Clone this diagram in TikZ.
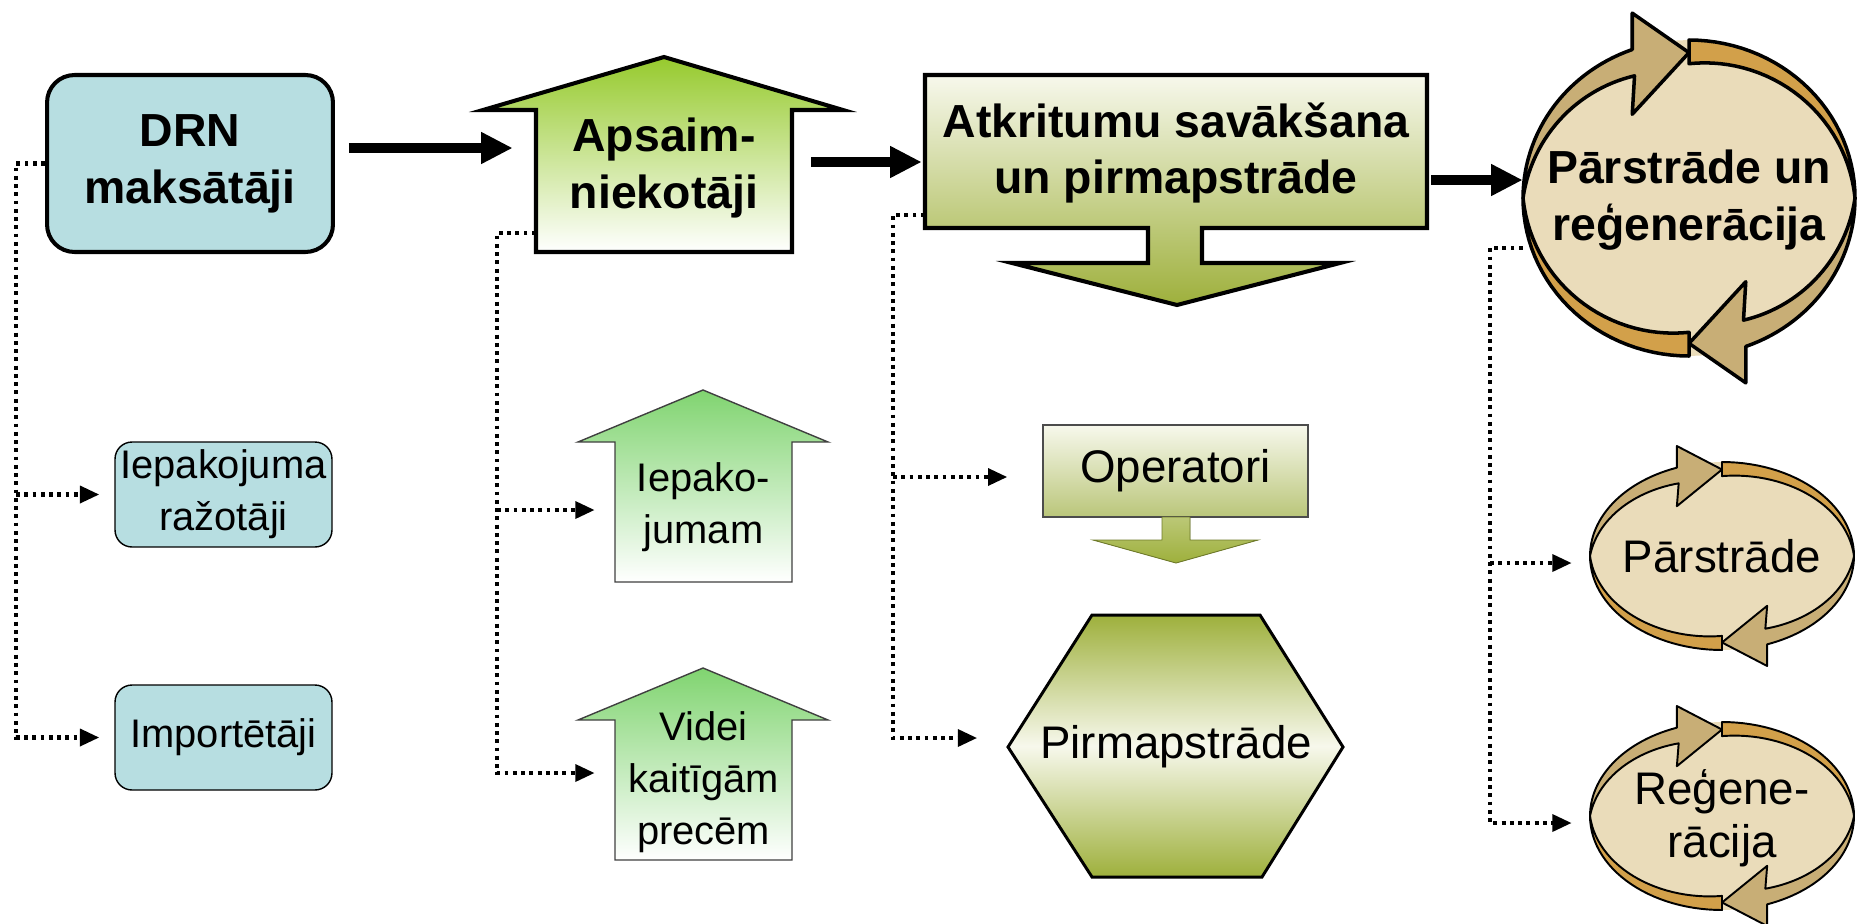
\documentclass[tikz,border=0pt]{standalone}
\usepackage{fontspec}
\setmainfont{Liberation Sans}
\usetikzlibrary{arrows.meta,calc}

\definecolor{drnblue}{RGB}{183,222,225}
\definecolor{apsgreen}{RGB}{150,202,45}
\definecolor{lightgreen}{RGB}{128,212,112}
\definecolor{olivegr}{RGB}{158,176,60}
\definecolor{palegr}{RGB}{247,248,236}
\definecolor{opbottom}{RGB}{186,198,122}
\definecolor{cycbeige}{RGB}{234,220,186}
\definecolor{cyctan}{RGB}{200,174,118}
\definecolor{cycgold}{RGB}{210,160,74}

% two curved arrows round an ellipse: centre, radii, line width
\newcommand{\cycarrows}[5]{%
\begin{scope}[shift={(#1,#2)},xscale=#3,yscale=-#4,line width=#5,line join=round]
\fill[cycbeige] plot[domain=0:360,samples=73] ({cos(\x)},{sin(\x)}) -- cycle;
\foreach \ang in {0,180}{
\filldraw[fill=cyctan,rotate=\ang] plot[domain=180:110,samples=30] ({cos(\x)},{sin(\x)}) -- (-0.342,1.17) -- (0,0.92) -- (-0.342,0.53)
  -- plot[domain=113:180,samples=30] ({(1-0.16*(180-\x)/67)*cos(\x)},{(1-0.16*(180-\x)/67)*sin(\x)}) -- cycle;
\filldraw[fill=cycgold,rotate=\ang] plot[domain=90:0,samples=30] ({cos(\x)},{sin(\x)})
  -- plot[domain=0:90,samples=30] ({(1-0.15*\x/90)*cos(\x)},{(1-0.15*\x/90)*sin(\x)}) -- cycle;
}
\end{scope}}

\begin{document}
\begin{tikzpicture}[x=0.02cm,y=-0.02cm,
  bigtxt/.style={font=\fontsize{26.4}{32.3}\selectfont\bfseries,align=center},
  midtxt/.style={font=\fontsize{26}{30}\selectfont,align=center},
  smtxt/.style={font=\fontsize{22.7}{29.5}\selectfont,align=center},
  bluebox/.style={draw,fill=drnblue,inner sep=0pt},
  mainarrow/.style={line width=5.7pt,-{Triangle[length=18pt,width=17pt]}},
  dotarrow/.style={line width=2.4pt,dash pattern=on 2.2pt off 2.5pt,-{Triangle[length=11pt,width=9.5pt]}}]
\useasboundingbox (0,0) rectangle (1859,923);

% payers, producers, importers
\node[bluebox,line width=2.3pt,rounded corners=0.55cm,minimum width=5.72cm,minimum height=3.54cm,bigtxt] (drn) at (190,163.5) {DRN\\maksātāji};
\node[bluebox,line width=0.8pt,rounded corners=0.34cm,minimum width=4.34cm,minimum height=2.1cm,smtxt] (razotaji) at (223.5,494.5) {Iepakojuma\\ražotāji};
\node[bluebox,line width=0.8pt,rounded corners=0.34cm,minimum width=4.34cm,minimum height=2.1cm,smtxt] (importetaji) at (223.5,737.5) {Importētāji};

% managers
\draw[line width=2.3pt,top color=apsgreen,bottom color=white] (536,252) -- (536,110) -- (483,110) -- (664,57) -- (843,110) -- (792,110) -- (792,252) -- cycle;
\node[bigtxt,minimum width=5.12cm] (apsaim) at (664,168) {Apsaim-\\niekotāji};
\draw[line width=0.8pt,draw=black!75,top color=lightgreen,bottom color=white] (615,582) -- (615,442) -- (578,442) -- (703,390) -- (828,442) -- (792,442) -- (792,582) -- cycle;
\node[smtxt,minimum width=3.54cm] (iepako) at (703.5,507) {Iepako-\\jumam};
\draw[line width=0.8pt,draw=black!75,top color=lightgreen,bottom color=white] (615,860) -- (615,720) -- (578,720) -- (703,668) -- (828,720) -- (792,720) -- (792,860) -- cycle;
\node[smtxt,minimum width=3.54cm] (videi) at (703.5,782) {Videi\\kaitīgām\\precēm};

% collection
\draw[line width=2.3pt,top color=palegr,bottom color=olivegr] (925,75) -- (1427,75) -- (1427,228) -- (1202,228) -- (1202,263) -- (1340,263) -- (1177,305) -- (1012,263) -- (1148,263) -- (1148,228) -- (925,228) -- cycle;
\node[bigtxt,minimum width=10.04cm] (atkr) at (1176,153) {Atkritumu savākšana\\un pirmapstrāde};
\node[draw=black!70,line width=0.8pt,top color=palegr,bottom color=opbottom,minimum width=5.3cm,minimum height=1.84cm,midtxt] (oper) at (1175.5,471) {Operatori};
\filldraw[draw=olivegr!70!black,line width=0.5pt,top color=olivegr!70,bottom color=olivegr] (1162,517) -- (1162,540) -- (1093,540) -- (1176,563) -- (1258,540) -- (1190,540) -- (1190,517) -- cycle;
\draw[line width=1.7pt,top color=olivegr,bottom color=olivegr,middle color=palegr] (1008,747) -- (1092,615) -- (1260,615) -- (1343,747) -- (1262,877) -- (1092,877) -- cycle;
\node[midtxt,minimum width=6.7cm] (pirm) at (1176,747) {Pirmapstrāde};

% recycling
\cycarrows{1689}{198}{166}{158}{2pt}
\node[bigtxt,minimum width=6.64cm] (cikls) at (1689,200) {Pārstrāde un\\reģenerācija};
\cycarrows{1722}{556}{132}{94}{1.1pt}
\node[midtxt,minimum width=5.28cm] (parstr) at (1722,556) {Pārstrāde};
\cycarrows{1722}{816}{132}{94}{1.1pt}
\node[midtxt,minimum width=5.28cm] (regen) at (1722,818) {Reģene-\\rācija};

% main flow
\draw[mainarrow,shorten <=0.28cm,shorten >=0.46cm] (drn.east |- 0,148) -- (apsaim.west |- 0,148);
\draw[mainarrow,shorten <=0.38cm,shorten >=0.06cm] (apsaim.east |- 0,162) -- (atkr.west |- 0,162);
\draw[mainarrow,shorten <=0.08cm] (atkr.east |- 0,180) -- (cikls.west |- 0,180);

% dotted branches
\coordinate (raildrn) at (16,163.5);
\draw[dotarrow,shorten >=0.3cm] (drn.west) -- (raildrn) |- (importetaji.west);
\draw[dotarrow,shorten >=0.3cm] (raildrn |- razotaji.west) -- (razotaji.west);
\coordinate (railaps) at (497,233);
\draw[dotarrow,shorten >=0.4cm] (apsaim.west |- railaps) -- (railaps) |- (videi.west |- 0,773);
\draw[dotarrow,shorten >=0.4cm] (railaps |- 0,510) -- (iepako.west |- 0,510);
\coordinate (railatk) at (893,215);
\draw[dotarrow,shorten >=0.62cm] (atkr.west |- railatk) -- (railatk) |- (pirm.west |- 0,738);
\draw[dotarrow,shorten >=0.7cm] (railatk |- 0,477) -- (oper.west |- 0,477);
\coordinate (railcik) at (1490,248);
\draw[dotarrow,shorten >=0.36cm] (cikls.west |- railcik) -- (railcik) |- (regen.west |- 0,823);
\draw[dotarrow,shorten >=0.36cm] (railcik |- 0,563) -- (parstr.west |- 0,563);
\end{tikzpicture}
\end{document}
